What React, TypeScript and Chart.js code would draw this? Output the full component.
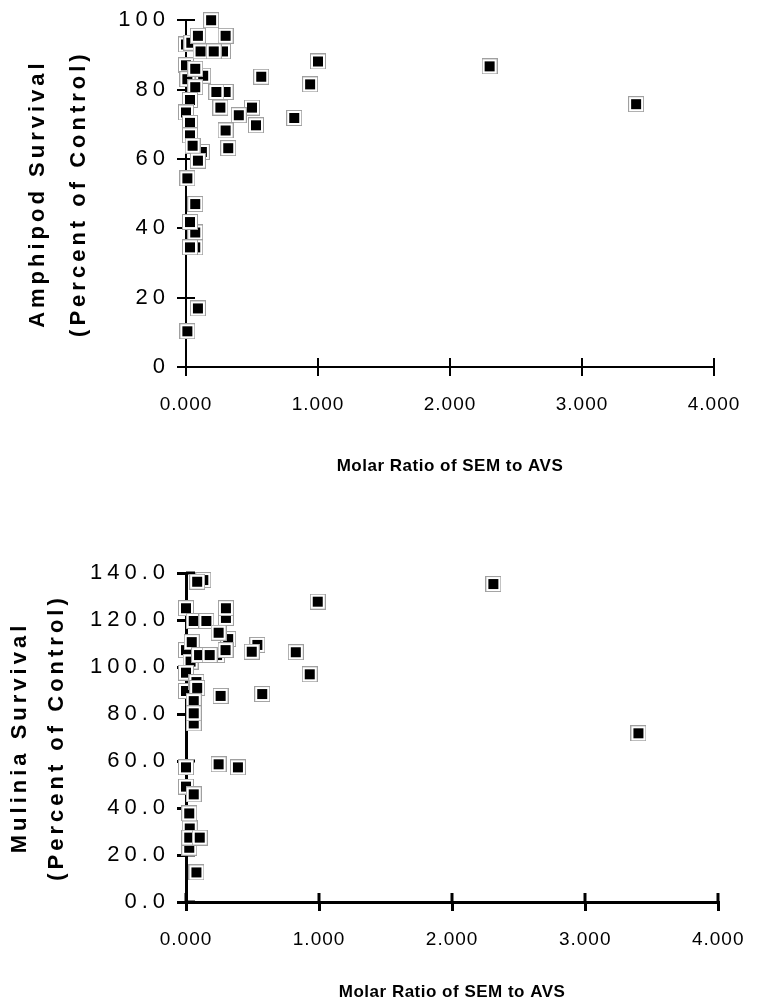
import React, { useEffect, useRef } from "react";
import { Chart, registerables } from "chart.js";

Chart.register(...registerables);

// ---- data ----
const xTickLabels = ["0.000", "1.000", "2.000", "3.000", "4.000"];
const ampTickLabels = ["0", "20", "40", "60", "80", "100"];
const mulTickLabels = ["0.0", "20.0", "40.0", "60.0", "80.0", "100.0", "120.0", "140.0"];

const ampX = [0.0, 0.04, 0.28, 0.0, 0.13, 0.01, 0.12, 0.07, 0.19, 0.09, 0.30, 0.11, 0.21, 1.0, 0.07, 0.57, 0.94, 0.07, 0.30, 0.23, 0.03, 0.26, 0.50, 0.0, 0.40, 0.82, 0.03, 0.53, 0.30, 0.03, 0.05, 0.32, 0.09, 0.01, 0.07, 0.03, 0.07, 0.03, 0.09, 0.01, 2.30, 3.41];
const ampY = [93, 93.5, 91, 87, 84, 83, 62, 38.8, 100, 95.5, 95.5, 91, 91, 88.1, 86, 83.7, 81.5, 80.7, 79.3, 79.3, 77, 74.8, 74.8, 73.4, 72.6, 71.8, 70.4, 69.7, 68.2, 66.8, 63.8, 63.1, 59.5, 54.4, 47, 41.8, 34.5, 34.5, 16.9, 10.3, 86.7, 75.8];

const mulX = [0.13, 0.30, 0.317, 0.233, 0.0, 0.034, 0.0, 0.0, 0.058, 0.058, 0.028, 0.024, 0.084, 0.99, 0.0, 0.30, 0.058, 0.153, 0.245, 0.043, 0.536, 0.494, 0.297, 0.825, 0.098, 0.178, 0.93, 0.078, 0.084, 0.26, 0.573, 0.058, 0.058, 0.0, 0.245, 0.39, 0.0, 0.058, 0.024, 0.024, 0.103, 0.078, 2.31, 3.40];
const mulY = [137, 120.9, 111.9, 105.1, 107.2, 102.3, 97.6, 89.8, 76.0, 45.8, 31.3, 23.1, 136.3, 127.8, 125, 125, 119.6, 119.6, 114.6, 110.6, 109.4, 106.5, 107.2, 106.3, 105.1, 105.1, 96.9, 93.6, 91.1, 87.7, 88.5, 85.5, 80.3, 57.3, 58.6, 57.3, 49.1, 45.8, 37.7, 27.4, 27.4, 12.6, 135.3, 71.8];

const FONT = "'Liberation Sans', Arial, Helvetica, sans-serif";

function makeMarker(): HTMLCanvasElement {
  const c = document.createElement("canvas");
  c.width = 16;
  c.height = 16;
  const g = c.getContext("2d")!;
  g.fillStyle = "#ffffff";
  g.fillRect(0, 0, 16, 16);
  g.strokeStyle = "#a0a0a0";
  g.lineWidth = 1;
  g.strokeRect(0.5, 0.5, 15, 15);
  g.fillStyle = "#000000";
  g.fillRect(3, 3, 10, 10);
  return c;
}

function spacingPlugin(cfg: Record<string, { ticks: string; title: string }>) {
  return {
    id: "letterSpacing",
    beforeUpdate(chart: any) {
      for (const id of Object.keys(cfg)) {
        const scale = chart.scales[id];
        if (!scale || scale.__patched) continue;
        scale.__patched = true;
        const dl = scale.drawLabels.bind(scale);
        const dt = scale.drawTitle.bind(scale);
        scale.drawLabels = (area: any) => {
          const c = scale.ctx;
          c.save();
          c.letterSpacing = cfg[id].ticks;
          dl(area);
          c.restore();
        };
        scale.drawTitle = () => {
          const c = scale.ctx;
          c.save();
          c.letterSpacing = cfg[id].title;
          dt();
          c.restore();
        };
      }
    },
  };
}

function innerTicks(len: number, width: number) {
  return {
    id: "innerTicks",
    beforeDatasetsDraw(chart: any) {
      const { ctx, chartArea, scales } = chart;
      ctx.save();
      ctx.strokeStyle = "#000";
      ctx.lineWidth = width;
      const xs = scales.x;
      xs.ticks.forEach((_: any, i: number) => {
        const px = Math.round(xs.getPixelForTick(i));
        ctx.beginPath();
        ctx.moveTo(px, chartArea.bottom);
        ctx.lineTo(px, chartArea.bottom - len);
        ctx.stroke();
      });
      const ys = scales.y;
      ys.ticks.forEach((_: any, i: number) => {
        const py = Math.round(ys.getPixelForTick(i));
        ctx.beginPath();
        ctx.moveTo(chartArea.left, py);
        ctx.lineTo(chartArea.left + len, py);
        ctx.stroke();
      });
      ctx.restore();
    },
  };
}

interface PanelProps {
  height: number;
  xs: number[];
  ys: number[];
  yMax: number;
  yLabels: string[];
  yTitle: string[];
  titleLineHeight: string;
  titlePadTop: number;
  padTop: number;
  padRight: number;
  plotBottom: number;
  xTitlePadBottom: number;
  lineW: number;
}

function Panel(p: PanelProps) {
  const ref = useRef<HTMLCanvasElement>(null);
  useEffect(() => {
    const marker = makeMarker();
    const data = p.xs.map((x, i) => ({ x, y: p.ys[i] }));
    const chart = new Chart(ref.current!, {
      type: "scatter",
      data: {
        datasets: [
          {
            data,
            pointStyle: marker as any,
            pointRadius: 8,
            clip: false as any,
          },
        ],
      },
      options: {
        responsive: false,
        animation: false,
        events: [],
        layout: { padding: { top: p.padTop, right: p.padRight, left: 0, bottom: 0 } },
        plugins: { legend: { display: false }, tooltip: { enabled: false } },
        scales: {
          x: {
            type: "linear",
            min: 0,
            max: 4,
            afterFit: (s: any) => {
              s.height = p.height - p.plotBottom;
            },
            ticks: {
              stepSize: 1,
              color: "#000",
              font: { family: FONT, size: 19 },
              padding: 17,
              maxRotation: 0,
              callback: (v: any) => xTickLabels[Math.round(Number(v))],
            },
            grid: { drawOnChartArea: false, drawTicks: true, tickLength: 9, color: "#000", lineWidth: p.lineW },
            border: { color: "#000", width: p.lineW },
            title: {
              display: true,
              text: "Molar Ratio of SEM to AVS",
              color: "#000",
              font: { family: FONT, size: 17, weight: "bold" },
              padding: { top: 0, bottom: p.xTitlePadBottom },
            },
          },
          y: {
            type: "linear",
            min: 0,
            max: p.yMax,
            afterFit: (s: any) => {
              s.width = 186;
            },
            ticks: {
              stepSize: 20,
              color: "#000",
              font: { family: FONT, size: 22 },
              padding: 7,
              callback: (v: any) => p.yLabels[Math.round(Number(v) / 20)],
            },
            grid: { drawOnChartArea: false, drawTicks: true, tickLength: 9, color: "#000", lineWidth: p.lineW },
            border: { color: "#000", width: p.lineW },
            title: {
              display: true,
              text: p.yTitle,
              color: "#000",
              font: { family: FONT, size: 22, weight: "bold", lineHeight: p.titleLineHeight as any },
              padding: { top: p.titlePadTop, bottom: 0 },
            },
          },
        },
      },
      plugins: [
        spacingPlugin({ x: { ticks: "1px", title: "0.5px" }, y: { ticks: "5px", title: "4px" } }),
        innerTicks(9, p.lineW),
      ],
    });
    return () => chart.destroy();
  }, []);
  return <canvas ref={ref} width={759} height={p.height} style={{ display: "block", width: 759, height: p.height }} />;
}

export default function App() {
  return (
    <div style={{ position: "absolute", left: 0, top: 0, width: 759, height: 1006, background: "#fff" }}>
      <Panel
        height={500}
        xs={ampX}
        ys={ampY}
        yMax={100}
        yLabels={ampTickLabels}
        yTitle={["Amphipod Survival", "(Percent of Control)"]}
        titleLineHeight="41px"
        titlePadTop={17}
        padTop={20}
        padRight={45}
        plotBottom={367}
        xTitlePadBottom={23}
        lineW={2}
      />
      <Panel
        height={506}
        xs={mulX}
        ys={mulY}
        yMax={140}
        yLabels={mulTickLabels}
        yTitle={["Mulinia Survival", "(Percent of Control)"]}
        titleLineHeight="37px"
        titlePadTop={1.5}
        padTop={73}
        padRight={38}
        plotBottom={402}
        xTitlePadBottom={3}
        lineW={3}
      />
    </div>
  );
}
